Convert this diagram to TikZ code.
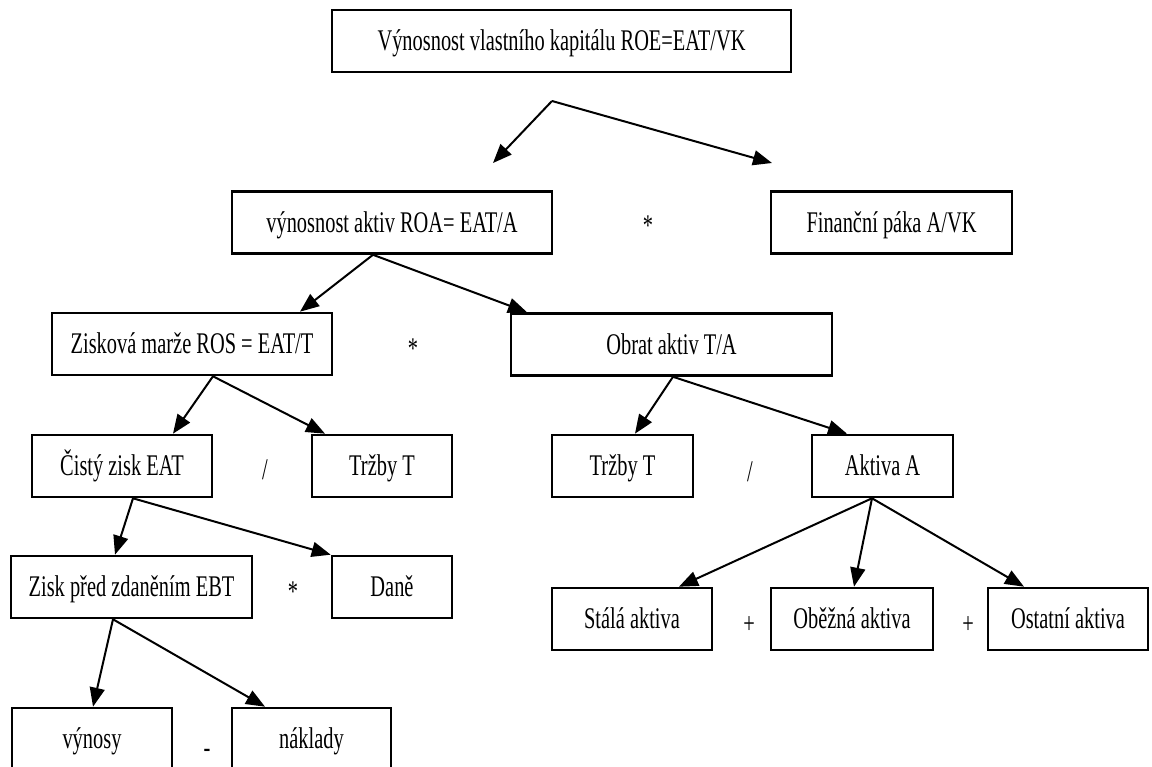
\documentclass[tikz,border=0pt]{standalone}
\usepackage{fontspec}
\setmainfont{Liberation Serif}[FakeStretch=0.68]
\usetikzlibrary{arrows.meta}
\tikzset{
  box/.style={draw, line width=2.6pt, minimum height=62pt, inner sep=0pt, text height=27pt, text depth=7.2pt, font=\fontsize{30}{36}\selectfont},
  arr/.style={line width=2pt, -{Triangle[length=19pt,width=15pt]}},
  op/.style={inner sep=0pt, font=\fontsize{30}{36}\selectfont}
}

\begin{document}
\begin{tikzpicture}[x=1pt,y=-1pt]
		%%%%% START %%%%%
		\useasboundingbox (0,0) rectangle (1152,767);
		\clip (0,0) rectangle (1152,767);
		
		\node[box, minimum width=459pt] (roe) at (561.5,41) {Výnosnost vlastního kapitálu ROE=EAT/VK};
		
		\node[box, minimum width=320pt] (roa) at (392,222.5) {výnosnost aktiv ROA= EAT/A};
		\node[op] (times1) at (648,226) {*};
		\node[box, minimum width=241pt] (fin) at (891.5,222.5) {Finanční páka A/VK};
		
		\node[box, minimum width=280pt] (zm) at (192,344) {Zisková marže ROS = EAT/T};
		\node[op] (times2) at (413,349) {*};
		\node[box, minimum width=321pt] (obrat) at (671.5,344.5) {Obrat aktiv T/A};
		
		\node[box, minimum width=180pt] (cisty) at (122,466) {Čistý zisk EAT};
		\node[op] (div1) at (265,470) {/};
		\node[box, minimum width=140pt] (trzby) at (382,466) {Tržby T};
		\node[box, minimum width=141pt] (trzbyb) at (622.5,466) {Tržby T};
		\node[op] (div2) at (750,472) {/};
		\node[box, minimum width=141pt] (aktiva) at (882.5,466) {Aktiva A};
		
		\node[box, minimum width=241pt] (ebt) at (131.5,587) {Zisk před zdaněním EBT};
		\node[op] (times3) at (293,592) {*};
		\node[box, minimum width=120pt] (dane) at (392,587) {Daně};
		
		\node[box, minimum width=160pt] (stala) at (632,619) {Stálá aktiva};
		\node[op] (plus1) at (749,625) {+};
		\node[box, minimum width=162pt] (obezna) at (852,619) {Oběžná aktiva};
		\node[op] (plus2) at (968,625) {+};
		\node[box, minimum width=160pt] (ostatni) at (1068,619) {Ostatní aktiva};
		
		\node[box, minimum width=160pt] (vynosy) at (92,739) {výnosy};
		\node[op] (minus) at (207,753) {-};
		\node[box, minimum width=159pt] (naklady) at (311.5,739) {náklady};
		
		% rozklad ROE
		\coordinate (fork) at (552,101);
		\coordinate (forkl) at (493,163);
		\coordinate (forkr) at (772,163);
		\draw[arr] (fork) -- (forkl);
		\draw[arr] (fork) -- (forkr);
		
		\draw[arr] ([xshift=-19pt]roa.south) -- ([xshift=108pt]zm.north);
		\draw[arr] ([xshift=-19pt]roa.south) -- ([xshift=-144.5pt]obrat.north);
		
		\draw[arr] ([xshift=21pt]zm.south) -- ([xshift=51pt]cisty.north);
		\draw[arr] ([xshift=21pt]zm.south) -- ([xshift=-57pt]trzby.north);
		
		\draw[arr] ([xshift=1.5pt]obrat.south) -- ([xshift=12.5pt]trzbyb.north);
		\draw[arr] ([xshift=1.5pt]obrat.south) -- ([xshift=-35.5pt]aktiva.north);
		
		\draw[arr] ([xshift=11pt]cisty.south) -- ([xshift=-16.5pt]ebt.north);
		\draw[arr] ([xshift=11pt]cisty.south) -- (dane.north west);
		
		\draw[arr] ([xshift=-10.5pt]aktiva.south) -- ([xshift=47pt]stala.north);
		\draw[arr] ([xshift=-10.5pt]aktiva.south) -- ([xshift=2pt]obezna.north);
		\draw[arr] ([xshift=-10.5pt]aktiva.south) -- ([xshift=-44pt]ostatni.north);
		
		\draw[arr] ([xshift=-18.5pt]ebt.south) -- ([xshift=1pt]vynosy.north);
		\draw[arr] ([xshift=-18.5pt]ebt.south) -- ([xshift=-46.5pt]naklady.north);
		
		%%%%% END %%%%%
\end{tikzpicture}
\end{document}
